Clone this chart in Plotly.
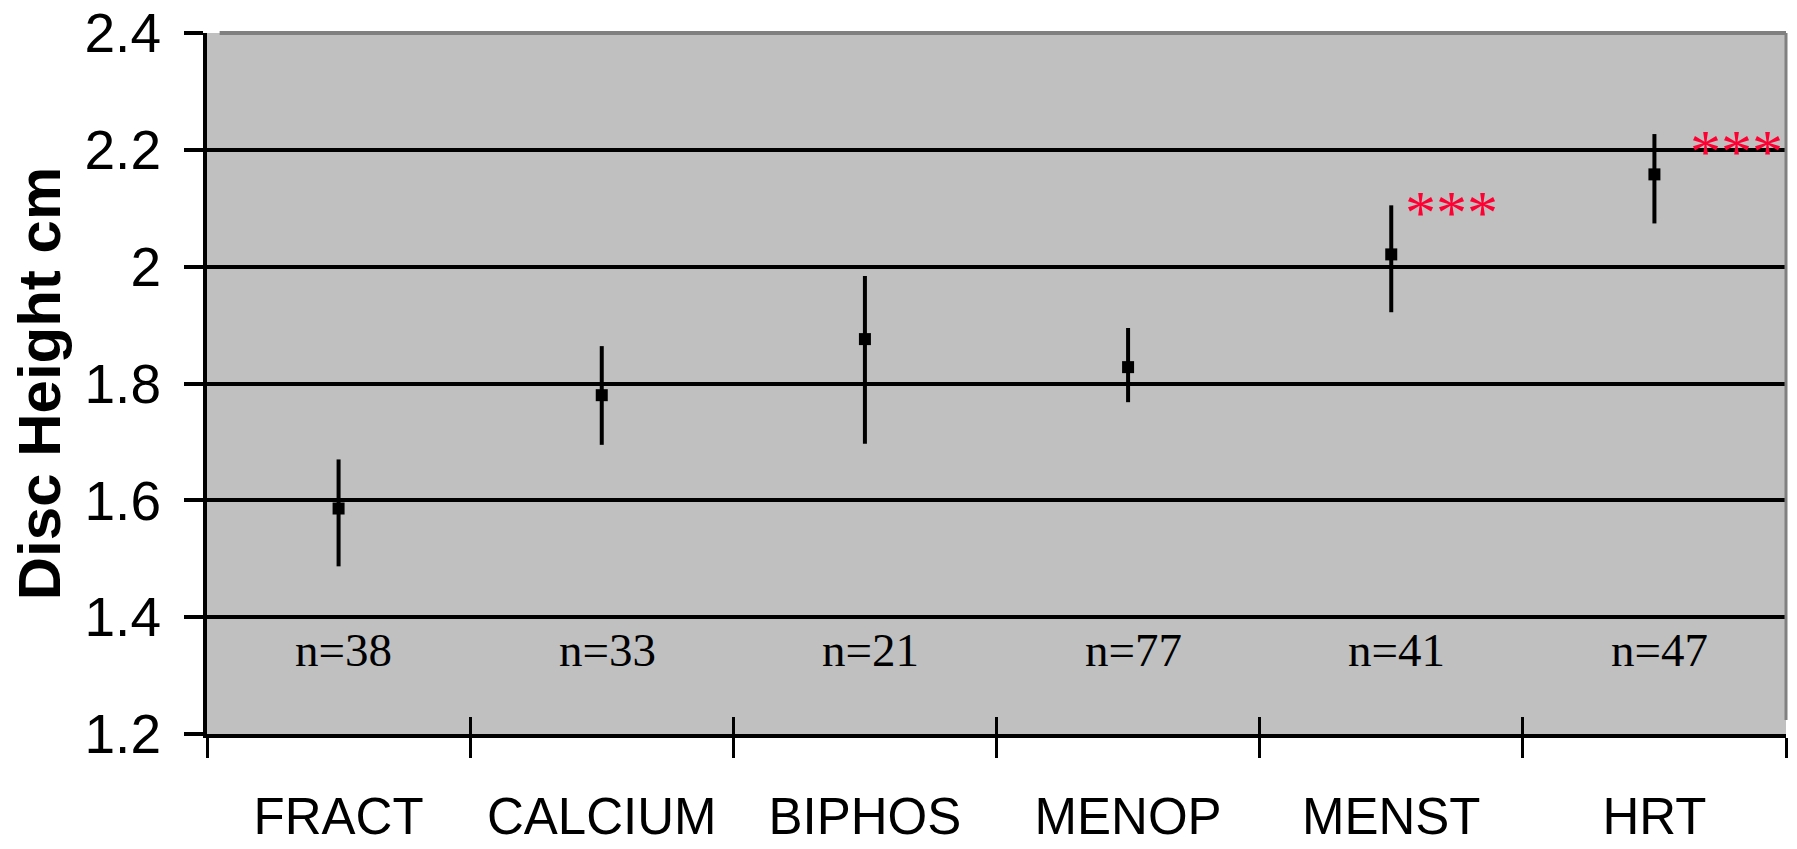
import plotly.graph_objects as go

categories = ["FRACT", "CALCIUM", "BIPHOS", "MENOP", "MENST", "HRT"]
means = [1.586, 1.780, 1.876, 1.828, 2.021, 2.158]
upper = [1.670, 1.864, 1.984, 1.895, 2.105, 2.227]
lower = [1.487, 1.695, 1.697, 1.768, 1.922, 2.074]
n_labels = ["n=38", "n=33", "n=21", "n=77", "n=41", "n=47"]
significant = {"MENST": (0.23, 2.094), "HRT": (0.31, 2.198)}
y_ticks = [1.2, 1.4, 1.6, 1.8, 2.0, 2.2, 2.4]
y_tick_text = ["1.2", "1.4", "1.6", "1.8", "2", "2.2", "2.4"]

err_plus = [u - m for u, m in zip(upper, means)]
err_minus = [m - l for m, l in zip(means, lower)]

fig = go.Figure()
fig.add_trace(go.Scatter(
    x=categories, y=means, mode="markers",
    marker=dict(symbol="square", size=12, color="black"),
    error_y=dict(type="data", symmetric=False, array=err_plus, arrayminus=err_minus,
                 color="black", thickness=4, width=0),
    showlegend=False, hoverinfo="skip",
))
# empty trace for the inside-tick overlay axis
fig.add_trace(go.Scatter(x=[], y=[], xaxis="x2", showlegend=False, hoverinfo="skip"))

annotations = []
for i, (c, lab) in enumerate(zip(categories, n_labels)):
    annotations.append(dict(x=i + 0.02, y=1.343, xref="x", yref="y", text=lab, showarrow=False,
                            font=dict(family="Liberation Serif", size=47, color="black"),
                            xanchor="center", yanchor="middle"))
for c, (dx, yv) in significant.items():
    annotations.append(dict(x=categories.index(c) + dx, y=yv, xref="x", yref="y", text="***",
                            showarrow=False,
                            font=dict(family="Liberation Serif", size=62, color="#FF0033"),
                            xanchor="center", yanchor="middle"))

fig.update_layout(
    width=1797, height=849,
    margin=dict(l=207, r=11, t=33, b=115, pad=0, autoexpand=False),
    paper_bgcolor="white", plot_bgcolor="#C0C0C0",
    annotations=annotations,
    xaxis=dict(type="category", categoryorder="array", categoryarray=categories,
               range=[-0.5, len(categories) - 0.5], automargin=False,
               showgrid=False, zeroline=False,
               showline=True, linecolor="black", linewidth=4,
               ticks="outside", tickson="boundaries", ticklen=20, tickwidth=3, tickcolor="black",
               tickfont=dict(family="Liberation Sans", size=51, color="black"),
               ticklabelstandoff=35),
    xaxis2=dict(overlaying="x", anchor="y", side="bottom", automargin=False,
                range=[-0.5, len(categories) - 0.5],
                tickmode="array", tickvals=[i - 0.5 for i in range(len(categories) + 1)],
                ticks="inside", ticklen=17, tickwidth=3, tickcolor="black",
                showticklabels=False, showgrid=False, zeroline=False, showline=False),
    yaxis=dict(range=[1.2, 2.4000001], tickmode="array", tickvals=y_ticks, ticktext=y_tick_text,
               automargin=False,
               showgrid=True, gridcolor="black", gridwidth=4, zeroline=False,
               showline=True, linecolor="black", linewidth=4,
               ticks="outside", ticklen=19, tickwidth=4, tickcolor="black",
               tickfont=dict(family="Liberation Sans", size=55, color="black"),
               ticklabelstandoff=12, ticklabeloverflow="allow",
               title=dict(text="<b>Disc Height cm</b>", standoff=6,
                          font=dict(family="Liberation Sans", size=60, color="black"))),
    shapes=[
        dict(type="line", xref="paper", yref="paper", x0=0.008, x1=1, y0=1, y1=1,
             line=dict(color="#808080", width=4), layer="above"),
        dict(type="line", xref="paper", yref="paper", x0=1, x1=1, y0=0.02, y1=1,
             line=dict(color="#808080", width=3), layer="above"),
    ],
)

fig.write_html("out.html")
